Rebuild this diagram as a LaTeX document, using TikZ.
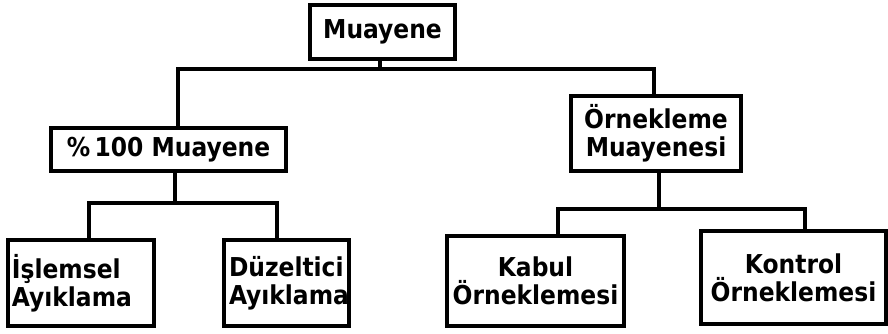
\documentclass[tikz,border=0pt]{standalone}
\usepackage{fontspec}
\setmainfont{DejaVu Sans Condensed}
\begin{document}
\begin{tikzpicture}[x=1pt,y=-1pt,
  box/.style={draw=black,line width=3.5pt,rectangle,inner sep=0pt,
    font=\bfseries\fontsize{26}{28}\selectfont},
  link/.style={draw=black,line width=3.5pt}]
\useasboundingbox (0,0) rectangle (888,333);
% boxes
\node[box,minimum width=145pt,minimum height=54pt] (top) at (382.5,32) {Muayene};
\node[box,minimum width=235pt,minimum height=43pt] (full) at (168.5,149.5) {\%\,100 Muayene};
\node[box,minimum width=170pt,minimum height=75pt,align=center] (samp) at (656,133.5) {Örnekleme\\Muayenesi};
\node[box,minimum width=146pt,minimum height=86pt,align=left,text width=138pt] (proc) at (81,283) {İşlemsel\\Ayıklama};
\node[box,minimum width=125pt,minimum height=86pt,align=left,text width=115pt] (corr) at (286.5,283) {Düzeltici\\Ayıklama};
\node[box,minimum width=177pt,minimum height=90pt,align=center] (acc) at (535.5,281) {Kabul\\Örneklemesi};
\node[box,minimum width=185pt,minimum height=93pt,align=center] (ctrl) at (793.5,277.5) {Kontrol\\Örneklemesi};
% junction levels
\coordinate (j1) at (0,69);
\coordinate (j2) at (0,203);
\coordinate (j3) at (0,209);
% connectors
\draw[link] ([xshift=-2.5pt]top.south) -- ([xshift=-2.5pt]top.south |- j1);
\draw[link] ([xshift=9.5pt]full.north) -- ([xshift=9.5pt]full.north |- j1)
  -- ([xshift=-2pt]samp.north |- j1) -- ([xshift=-2pt]samp.north);
\draw[link] ([xshift=6.5pt]full.south) -- ([xshift=6.5pt]full.south |- j2);
\draw[link] ([xshift=8pt]proc.north) -- ([xshift=8pt]proc.north |- j2)
  -- ([xshift=-9.5pt]corr.north |- j2) -- ([xshift=-9.5pt]corr.north);
\draw[link] ([xshift=3pt]samp.south) -- ([xshift=3pt]samp.south |- j3);
\draw[link] ([xshift=22.5pt]acc.north) -- ([xshift=22.5pt]acc.north |- j3)
  -- ([xshift=11.5pt]ctrl.north |- j3) -- ([xshift=11.5pt]ctrl.north);
\end{tikzpicture}
\end{document}
